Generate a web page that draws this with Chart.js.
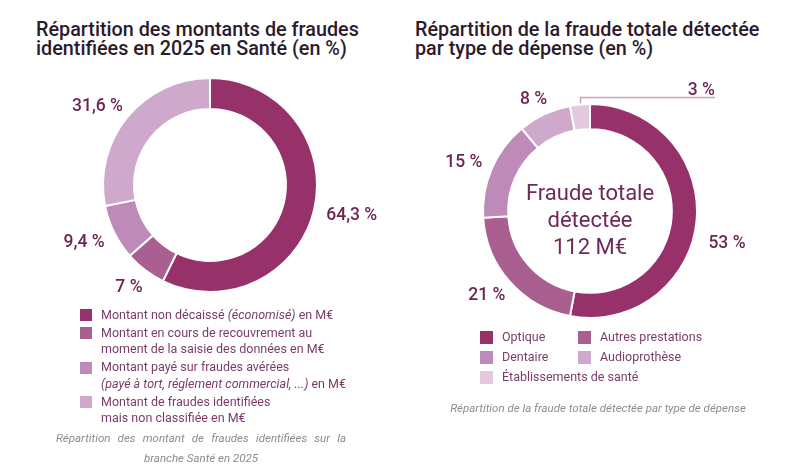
<!DOCTYPE html>
<html lang="fr">
<head>
<meta charset="utf-8">
<script src="https://cdn.jsdelivr.net/npm/chart.js@4.4.1/dist/chart.umd.min.js"></script>
<style>
body{margin:0;background:#fff;font-family:Roboto,"Noto Sans",sans-serif;}
#page{position:relative;width:807px;height:473px;overflow:hidden;}
.title{position:absolute;font-size:19.8px;font-weight:500;line-height:19px;color:#2b1b2c;}
canvas{position:absolute;}
.legend{position:absolute;font-size:12.5px;color:#7a3c69;}
.legend .item{display:flex;align-items:flex-start;line-height:16.5px;margin-bottom:1.5px;}
.legend .sq{width:12px;height:12px;flex:none;margin-top:2.25px;margin-right:9px;}
.legend2{position:absolute;font-size:12.5px;color:#7a3c69;display:grid;grid-template-columns:98px 120px;line-height:20px;}
.legend2 .item{display:flex;align-items:center;white-space:nowrap;}
.legend2 .sq{width:13px;height:13px;flex:none;margin-right:9px;}
.caption{position:absolute;font-size:11.5px;font-style:italic;color:#8c8c8c;line-height:20px;}
</style>
</head>
<body>
<div id="page">
  <div class="title" style="left:36px;top:20px;">Répartition des montants de fraudes<br>identifiées en 2025 en Santé (en %)</div>
  <div class="title" style="left:415px;top:20px;">Répartition de la fraude totale détectée<br>par type de dépense (en %)</div>

  <canvas id="montants" width="380" height="290" style="left:20px;top:40px;"></canvas>
  <canvas id="depense" width="340" height="290" style="left:420px;top:66px;"></canvas>

  <div class="legend" id="legend1" style="left:80px;top:306.75px;"></div>
  <div class="caption" style="left:56px;top:428px;width:290px;text-align:justify;text-align-last:center;">Répartition des montant de fraudes identifiées sur la branche Santé en 2025</div>

  <div class="legend2" id="legend2" style="left:480px;top:327px;"></div>
  <div class="caption" style="left:438px;top:398px;width:320px;text-align:center;">Répartition de la fraude totale détectée par type de dépense</div>
</div>

<script>

/* =========================
   DATA
========================= */

const montantLabels = [
"Montant non décaissé <i>(économisé)</i> en M€",
"Montant en cours de recouvrement au<br>moment de la saisie des données en M€",
"Montant payé sur fraudes avérées<br><i>(payé à tort, réglement commercial, ...)</i> en M€",
"Montant de fraudes identifiées<br>mais non classifiée en M€"
]
const montantValues = [64.3, 7, 9.4, 31.6]

const depenseLabels = ["Optique","Autres prestations","Dentaire","Audioprothèse","Établissements de santé"]
const depenseValues = [53, 21, 15, 8, 3]

const centerLines = ["Fraude totale","détectée","112 M€"]

const palette = ["#96316a","#a95f90","#be8ab8","#cfa9cc","#e3c8de"]


/* =========================
   LEGENDS (html)
========================= */

const legend1 = document.getElementById("legend1")
montantLabels.forEach((lab,i)=>{
legend1.insertAdjacentHTML("beforeend",
'<div class="item"><span class="sq" style="background:'+palette[i]+'"></span><span>'+lab+'</span></div>')
})

const legend2 = document.getElementById("legend2")
depenseLabels.forEach((lab,i)=>{
legend2.insertAdjacentHTML("beforeend",
'<div class="item"><span class="sq" style="background:'+palette[i]+'"></span><span>'+lab+'</span></div>')
})


/* =========================
   SLICE LABELS PLUGIN
========================= */

const fmt = v => String(v).replace(".", ",") + " %"

const sliceLabels = {
id:"sliceLabels",
afterDatasetsDraw(chart, args, opts){

const ctx = chart.ctx
const meta = chart.getDatasetMeta(0)
const data = chart.data.datasets[0].data
const total = data.reduce((a,b)=>a+b,0)

ctx.save()
ctx.font = "500 " + opts.size + "px Roboto"
ctx.fillStyle = opts.color
const capH = opts.size*0.71

meta.data.forEach((arc,i)=>{

const p = arc.getProps(["x","y","startAngle","endAngle","outerRadius"], true)
const mid = (p.startAngle + p.endAngle)/2
const c = Math.cos(mid), s = Math.sin(mid)
const text = fmt(data[i])
const w = ctx.measureText(text).width

/* small slice: leader line going up then right */
if(opts.leader && data[i]/total < 0.05){
const sx = Math.round(p.x + p.outerRadius*c) + 0.5
const sy = p.y + p.outerRadius*s - 1
const ly = Math.round(sy - 6) + 0.5
const ex = p.x + p.outerRadius + 18
ctx.strokeStyle = opts.leaderColor
ctx.lineWidth = 1.5
ctx.beginPath()
ctx.moveTo(sx, sy)
ctx.lineTo(sx, ly)
ctx.lineTo(ex, ly)
ctx.stroke()
ctx.textAlign = "right"
ctx.textBaseline = "alphabetic"
ctx.fillText(text, ex, ly - 3)
return
}

const nudge = (opts.nudge && opts.nudge[i]) || 0
const tx = p.x + (p.outerRadius + opts.pad)*c + w/2*c
const ty = p.y + (p.outerRadius + opts.pad)*s + capH/2*s + nudge

ctx.textAlign = "center"
ctx.textBaseline = "alphabetic"
ctx.fillText(text, tx, ty + capH/2)

})

ctx.restore()
}
}

const centerText = {
id:"centerText",
afterDatasetsDraw(chart, args, opts){
if(!opts.lines) return
const ctx = chart.ctx
const p = chart.getDatasetMeta(0).data[0].getProps(["x","y"], true)
ctx.save()
ctx.font = "400 22px Roboto"
ctx.fillStyle = "#6d2a59"
ctx.textAlign = "center"
ctx.textBaseline = "alphabetic"
opts.lines.forEach((l,i)=>{
ctx.fillText(l, p.x, p.y - 11 + i*27)
})
ctx.restore()
}
}


/* =========================
   LEFT DONUT
========================= */

new Chart(document.getElementById("montants"),{
type:"doughnut",
data:{
labels:montantLabels,
datasets:[{
data:montantValues,
backgroundColor:palette.slice(0,4),
borderColor:"#fff",
borderWidth:2,
hoverOffset:0
}]
},
options:{
responsive:false,
animation:false,
events:[],
cutout:"71%",
layout:{padding:{left:82,right:82,top:37,bottom:37}},
plugins:{
legend:{display:false},
tooltip:{enabled:false},
sliceLabels:{size:17.5,color:"#6b2752",pad:13}
}
},
plugins:[sliceLabels]
})


/* =========================
   RIGHT DONUT
========================= */

new Chart(document.getElementById("depense"),{
type:"doughnut",
data:{
labels:depenseLabels,
datasets:[{
data:depenseValues,
backgroundColor:palette,
borderColor:"#fff",
borderWidth:2,
hoverOffset:0
}]
},
options:{
responsive:false,
animation:false,
events:[],
cutout:"76.5%",
layout:{padding:{left:62,right:62,top:37,bottom:37}},
plugins:{
legend:{display:false},
tooltip:{enabled:false},
sliceLabels:{size:17.5,color:"#6b2752",pad:12,leader:true,leaderColor:"#c9a2c3",nudge:{0:19}},
centerText:{lines:centerLines}
}
},
plugins:[sliceLabels, centerText]
})

</script>
</body>
</html>
